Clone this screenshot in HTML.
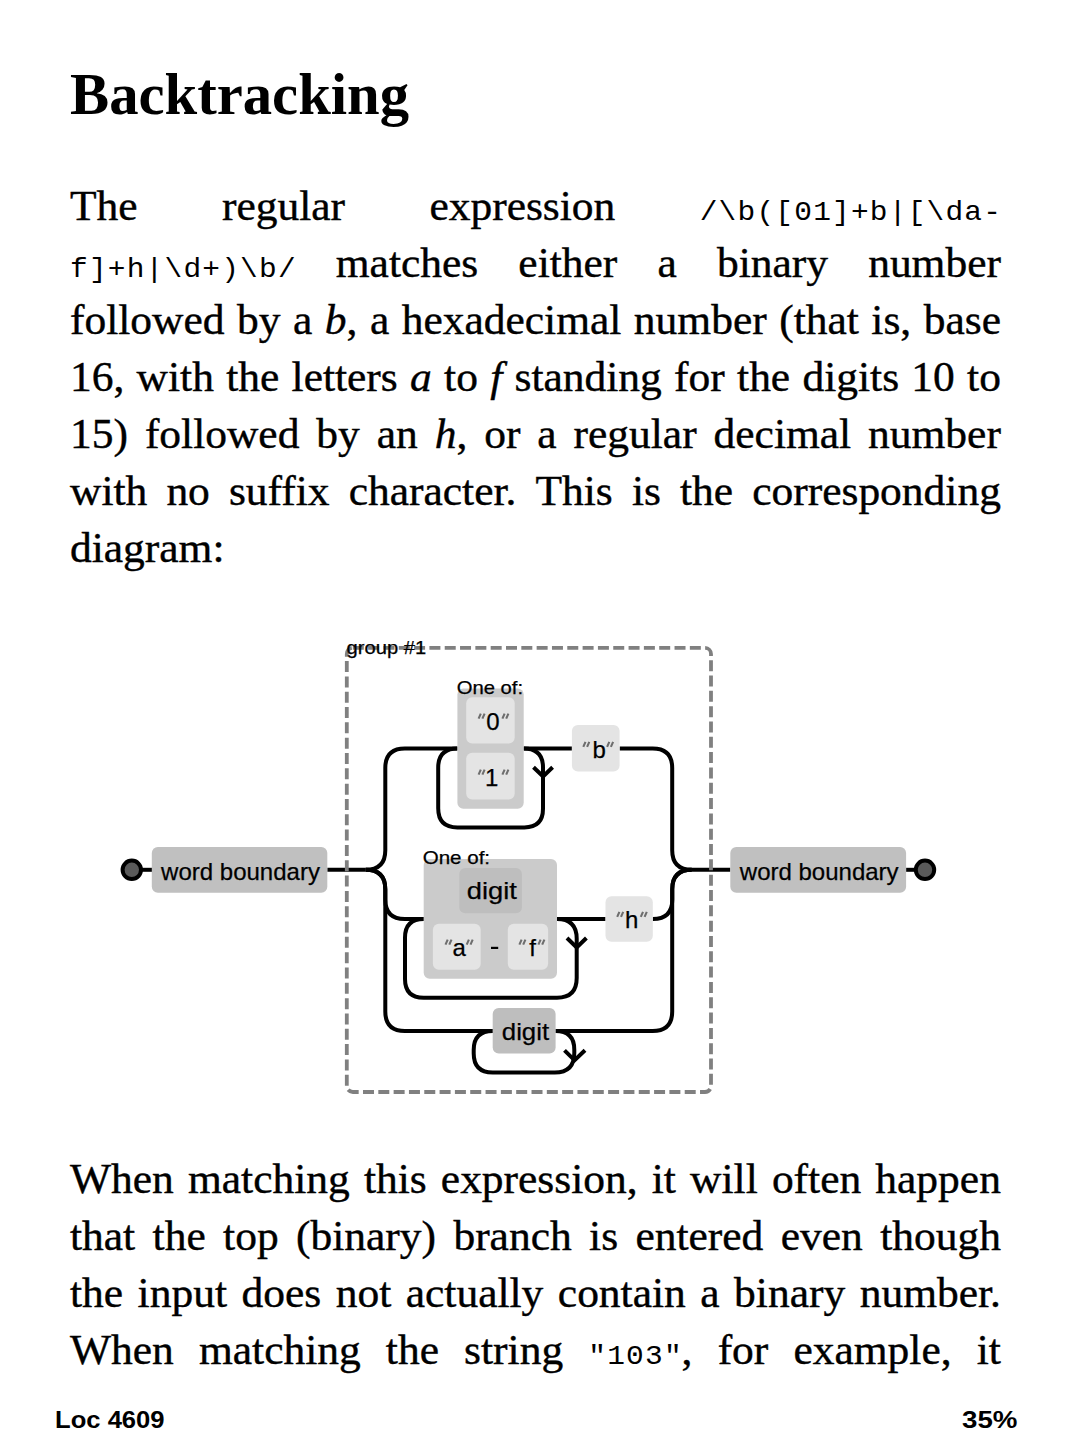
<!DOCTYPE html>
<html>
<head>
<meta charset="utf-8">
<style>
html,body{margin:0;padding:0;background:#fff;}
body{width:1072px;height:1448px;position:relative;overflow:hidden;color:#000;}
.t{position:absolute;font-family:"Liberation Serif",serif;}
#title{left:70px;top:60px;font-size:58.7px;font-weight:bold;line-height:70px;white-space:nowrap;}
.ln{position:absolute;left:70px;width:899.5px;transform:scaleX(1.035);transform-origin:0 0;height:57px;line-height:57px;font-family:"Liberation Serif",serif;font-size:42px;-webkit-text-stroke:0.4px #000;display:flex;justify-content:space-between;align-items:baseline;white-space:nowrap;}
.ln.l{justify-content:flex-start;}
.m{font-family:"Liberation Mono",monospace;font-size:28.5px;letter-spacing:1.16px;margin-right:-1.16px;-webkit-text-stroke:0;}
.ft{position:absolute;font-family:"Liberation Sans",sans-serif;font-weight:bold;font-size:24.5px;line-height:30px;white-space:nowrap;}
svg{position:absolute;left:0;top:0;}
svg text{font-family:"Liberation Sans",sans-serif;stroke:#000;stroke-width:0.25px;}
</style>
</head>
<body>
<div id="title" class="t">Backtracking</div>

<div class="ln" style="top:178px"><span>The</span><span>regular</span><span>expression</span><span class="m">/\b([01]+b|[\da-</span></div>
<div class="ln" style="top:235px"><span class="m">f]+h|\d+)\b/</span><span>matches</span><span>either</span><span>a</span><span>binary</span><span>number</span></div>
<div class="ln" style="top:292px"><span>followed</span><span>by</span><span>a</span><span><i>b</i>,</span><span>a</span><span>hexadecimal</span><span>number</span><span>(that</span><span>is,</span><span>base</span></div>
<div class="ln" style="top:349px"><span>16,</span><span>with</span><span>the</span><span>letters</span><span><i>a</i></span><span>to</span><span><i>f</i></span><span>standing</span><span>for</span><span>the</span><span>digits</span><span>10</span><span>to</span></div>
<div class="ln" style="top:406px"><span>15)</span><span>followed</span><span>by</span><span>an</span><span><i>h</i>,</span><span>or</span><span>a</span><span>regular</span><span>decimal</span><span>number</span></div>
<div class="ln" style="top:463px"><span>with</span><span>no</span><span>suffix</span><span>character.</span><span>This</span><span>is</span><span>the</span><span>corresponding</span></div>
<div class="ln l" style="top:520px"><span>diagram:</span></div>

<div class="ln" style="top:1151px"><span>When</span><span>matching</span><span>this</span><span>expression,</span><span>it</span><span>will</span><span>often</span><span>happen</span></div>
<div class="ln" style="top:1208px"><span>that</span><span>the</span><span>top</span><span>(binary)</span><span>branch</span><span>is</span><span>entered</span><span>even</span><span>though</span></div>
<div class="ln" style="top:1265px"><span>the</span><span>input</span><span>does</span><span>not</span><span>actually</span><span>contain</span><span>a</span><span>binary</span><span>number.</span></div>
<div class="ln" style="top:1322px"><span>When</span><span>matching</span><span>the</span><span>string</span><span><span class="m">"103"</span>,</span><span>for</span><span>example,</span><span>it</span></div>

<div class="ft" style="left:55.3px;top:1405px;transform:scaleX(1.045);transform-origin:0 0">Loc 4609</div>
<div class="ft" style="left:962px;top:1405px;transform:scaleX(1.13);transform-origin:0 0">35%</div>

<svg width="1072" height="1448" viewBox="0 0 1072 1448">
<g fill="none" stroke="#000" stroke-width="4">
<path d="M141,869.8H152"/>
<path d="M327.3,869.8H365.8"/>
<path d="M365.8,869.8q19.5,0 19.5,-19.5V768q0,-19.5 19.5,-19.5H457.4"/>
<path d="M365.8,869.8q19.5,0 19.5,19.5V899.4q0,19.5 19.5,19.5H423.7"/>
<path d="M365.8,869.8q19.5,0 19.5,19.5V1011.5q0,19.5 19.5,19.5H492.7"/>
<path d="M523.7,748.5H571.9"/>
<path d="M619.6,748.5H652.7q19.5,0 19.5,19.5V850.3q0,19.5 19.5,19.5"/>
<path d="M557,918.9H605.5"/>
<path d="M652.8,918.9q19.5,0 19.5,-19.5V889.3q0,-19.5 19.5,-19.5"/>
<path d="M555.6,1031H652.7q19.5,0 19.5,-19.5V889.3q0,-19.5 19.5,-19.5"/>
<path d="M691.7,869.8H730.3"/>
<path d="M906.1,869.8H916"/>
<path d="M523.7,748.5q19.3,0 19.3,19V808.8q0,18.6 -18.6,18.6H457.4q-19.2,0 -19.2,-19.2V767.7q0,-19.2 19.2,-19.2"/>
<path d="M533.5,767.3L543.1,776.5L552.6,767.3"/>
<path d="M557,918.9q19.7,0 19.7,19.7V978q0,19.7 -19.7,19.7H423.7q-18.7,0 -18.7,-18.7V937.6q0,-18.7 18.7,-18.7"/>
<path d="M567,938L576.7,947.5L586.4,938"/>
<path d="M555.6,1031q18.7,0 18.7,18.7V1053q0,19.5 -19.5,19.5H492.7q-19,0 -19,-19V1050q0,-19 19,-19"/>
<path d="M564.5,1050.3L574.6,1060.3L585,1050.3"/>
</g>
<circle cx="131.8" cy="869.8" r="9.2" fill="#5a5a5a" stroke="#000" stroke-width="4"/>
<circle cx="925" cy="869.8" r="9.2" fill="#5a5a5a" stroke="#000" stroke-width="4"/>
<rect x="346.8" y="647.9" width="364.2" height="444.1" rx="6" fill="none" stroke="#808080" stroke-width="3.8" stroke-dasharray="11 4.32"/>
<text x="346.6" y="653.5" font-size="18" textLength="79.6" lengthAdjust="spacingAndGlyphs">group #1</text>
<rect x="151.8" y="847" width="175.5" height="45.8" rx="6" fill="#c0c0c0"/>
<text x="240.5" y="879.7" font-size="24" text-anchor="middle">word boundary</text>
<rect x="730.3" y="847" width="175.8" height="45.8" rx="6" fill="#c0c0c0"/>
<text x="819.2" y="879.7" font-size="24" text-anchor="middle">word boundary</text>
<rect x="457.4" y="688.4" width="66.3" height="120.3" rx="6" fill="#cbcbcb"/>
<text x="456.7" y="693.9" font-size="18.5" textLength="66.4" lengthAdjust="spacingAndGlyphs">One of:</text>
<rect x="466.2" y="697.2" width="48.5" height="46.2" rx="6" fill="#e4e4e4"/>
<rect x="466.2" y="752.8" width="48.5" height="46.6" rx="6" fill="#e4e4e4"/>
<rect x="571.9" y="725.1" width="47.7" height="46.4" rx="6" fill="#e4e4e4"/>
<rect x="423.7" y="858.9" width="133.3" height="119.8" rx="6" fill="#cbcbcb"/>
<text x="422.7" y="864" font-size="18.5" textLength="67.4" lengthAdjust="spacingAndGlyphs">One of:</text>
<rect x="459.3" y="867.9" width="62.6" height="45.3" rx="6" fill="#bebebe"/>
<text x="466.8" y="899.4" font-size="24" textLength="50.1" lengthAdjust="spacingAndGlyphs">digit</text>
<rect x="432.9" y="923.7" width="47.8" height="46.1" rx="6" fill="#e4e4e4"/>
<rect x="491" y="946.8" width="7.2" height="2.2" fill="#000"/>
<rect x="507.8" y="923.7" width="40.3" height="46.1" rx="6" fill="#e4e4e4"/>
<rect x="605.5" y="896.3" width="47.3" height="45.5" rx="6" fill="#e4e4e4"/>
<rect x="492.7" y="1008.1" width="62.9" height="45.4" rx="6" fill="#bebebe"/>
<text x="501.8" y="1039.8" font-size="24" textLength="47.3" lengthAdjust="spacingAndGlyphs">digit</text>
<text x="493" y="729.8" font-size="24" text-anchor="middle">0</text><path d="M478.6,718.6l2.2,-5.0M482.4,718.6l2.2,-5.0M502.4,718.6l2.2,-5.0M506.2,718.6l2.2,-5.0" stroke="#6e6e6e" stroke-width="2.1" fill="none"/><text x="491.8" y="785.8" font-size="24" text-anchor="middle">1</text><path d="M478.6,774.7l2.2,-5.0M482.4,774.7l2.2,-5.0M502.4,774.7l2.2,-5.0M506.2,774.7l2.2,-5.0" stroke="#6e6e6e" stroke-width="2.1" fill="none"/><text x="599.2" y="757.7" font-size="24" text-anchor="middle">b</text><path d="M583.3,746.8l2.2,-5.0M587.1,746.8l2.2,-5.0M607.1,746.8l2.2,-5.0M610.9,746.8l2.2,-5.0" stroke="#6e6e6e" stroke-width="2.1" fill="none"/><text x="459.2" y="955.7" font-size="24" text-anchor="middle">a</text><path d="M445.5,944.6l2.2,-5.0M449.3,944.6l2.2,-5.0M466.7,944.6l2.2,-5.0M470.5,944.6l2.2,-5.0" stroke="#6e6e6e" stroke-width="2.1" fill="none"/><text x="532.7" y="955.7" font-size="24" text-anchor="middle">f</text><path d="M519.4,944.6l2.2,-5.0M523.2,944.6l2.2,-5.0M538.4,944.6l2.2,-5.0M542.2,944.6l2.2,-5.0" stroke="#6e6e6e" stroke-width="2.1" fill="none"/><text x="631.8" y="928" font-size="24" text-anchor="middle">h</text><path d="M617.2,916.8l2.2,-5.0M621.0,916.8l2.2,-5.0M640.8,916.8l2.2,-5.0M644.6,916.8l2.2,-5.0" stroke="#6e6e6e" stroke-width="2.1" fill="none"/>
</svg>
</body>
</html>
